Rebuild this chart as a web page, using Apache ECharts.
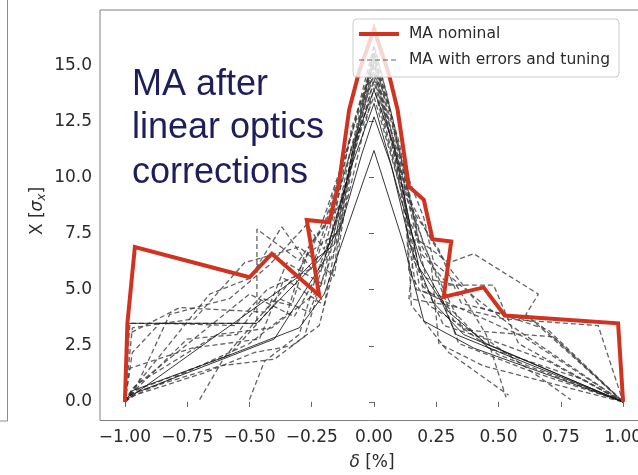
<!DOCTYPE html>
<html>
<head>
<meta charset="utf-8">
<script src="https://cdn.jsdelivr.net/npm/echarts@6/dist/echarts.min.js"></script>
<style>
  html, body { margin: 0; padding: 0; background: #ffffff; }
  #chart { width: 638px; height: 475px; }
</style>
</head>
<body>
<div id="chart"></div>
<script>
// Tick positions
const xTicks = [-1, -0.75, -0.5, -0.25, 0, 0.25, 0.5, 0.75, 1];
const yTicks = [0, 2.5, 5, 7.5, 10, 12.5, 15];

// Momentum aperture of the nominal lattice: [delta %, X in sigma_x]
const nominal = [
  [-1.0, 0.0], [-0.99, 3.5], [-0.96, 6.9], [-0.5, 5.55], [-0.41, 6.6], [-0.22, 4.75],
  [-0.27, 8.1], [-0.18, 8.0], [-0.14, 9.8], [-0.1, 13.0], [-0.06, 14.7], [0.0, 16.6],
  [0.06, 14.6], [0.095, 13.0], [0.14, 9.6], [0.2, 9.0], [0.235, 7.25], [0.31, 7.15],
  [0.28, 4.68], [0.44, 5.1], [0.525, 3.85], [0.98, 3.5], [1.0, 0.0]
];

// Momentum aperture of the machines with errors after tuning
const seedA = [[-1,0],[-0.98,3.5],[-0.47,3.5],[-0.47,7.7],[-0.3,6.3],[-0.22,7.6],[-0.11,11.2],[0,15.4],[0.1,11.6],[0.17,7.8],[0.14,4.6],[0.3,4.3],[0.52,3.7],[0.9,3.4],[1,0]];
const seedB = [[-1,0],[-0.98,0.4],[-0.66,4.8],[-0.5,5.5],[-0.37,7.8],[-0.25,5.9],[-0.12,10.6],[0,15.9],[0.08,12.4],[0.18,7.2],[0.3,6.2],[0.4,6.6],[0.66,4.8],[0.61,3.9],[1,0]];
const seedC = [[-1,0],[-0.97,0.6],[-0.5,4.8],[-0.32,3.8],[-0.19,6.4],[-0.09,12.2],[0,15.1],[0.11,10.2],[0.21,5.5],[0.33,5.2],[0.45,3.0],[0.53,0.2]];
const seedD = [[-0.7,0.1],[-0.6,2.0],[-0.42,4.3],[-0.35,6.2],[-0.2,5.2],[-0.1,10.9],[0,14.6],[0.1,10.4],[0.16,6.3],[0.28,3.4],[0.45,2.8],[0.79,0.1]];
const seedE = [[-0.5,0.1],[-0.44,1.8],[-0.3,3.0],[-0.23,5.7],[-0.14,8.4],[0,14.9],[0.12,9.2],[0.2,4.9],[0.38,4.0],[0.6,2.9],[1,0]];
const seedF = [[-1,0],[-0.97,0.3],[-0.82,3.9],[-0.58,4.6],[-0.42,6.1],[-0.27,7.9],[-0.2,6.8],[-0.08,11.8],[0,15.6],[0.09,11.0],[0.2,7.0],[0.28,5.0],[0.36,3.2],[0.72,2.9],[1,0]];
const seedG = [[-1,0],[-0.96,0.5],[-0.58,2.1],[-0.38,4.6],[-0.26,4.0],[-0.15,7.0],[0,14.0],[0.14,8.1],[0.23,6.1],[0.26,2.6],[0.44,1.6],[1,0]];
const seedH = [[-1,0],[-0.98,1.5],[-0.73,2.4],[-0.46,2.8],[-0.36,5.5],[-0.2,4.3],[-0.12,9.0],[0,15.2],[0.1,10.0],[0.25,5.6],[0.32,3.6],[0.5,2.1],[1,0]];
const seedI = [[-1,0],[-0.97,3.3],[-0.72,3.7],[-0.52,6.2],[-0.3,6.9],[-0.16,5.6],[-0.06,12.5],[0,15.8],[0.05,13.8],[0.15,8.6],[0.26,6.8],[0.35,4.4],[0.66,3.5],[1,0]];
const seedJ = [[-1,0],[-0.95,0.8],[-0.63,3.0],[-0.41,3.3],[-0.24,4.8],[-0.18,7.1],[-0.1,10.3],[0,14.4],[0.12,9.8],[0.14,5.8],[0.22,4.3],[0.41,3.0],[0.7,1.8],[1,0]];
const seedK = [[-1,0],[-0.99,3.0],[-0.78,4.2],[-0.44,4.0],[-0.31,5.7],[-0.2,7.9],[-0.1,11.6],[0,15.0],[0.07,12.8],[0.19,6.6],[0.3,5.2],[0.48,5.2],[0.58,2.6],[1,0]];
const seedL = [[-1,0],[-0.98,0.2],[-0.5,2.6],[-0.35,3.9],[-0.28,6.5],[-0.14,7.6],[-0.05,13.0],[0,14.7],[0.09,11.3],[0.18,5.3],[0.33,3.9],[0.46,2.4],[0.84,1.0],[1,0]];
const seedM = [[-1,0],[-0.97,2.2],[-0.86,3.5],[-0.56,3.4],[-0.43,5.0],[-0.24,6.0],[-0.17,8.4],[-0.07,12.0],[0,15.3],[0.11,10.8],[0.2,8.2],[0.24,6.2],[0.4,4.7],[0.55,3.4],[1,0]];
const seedN = [[-1,0],[-0.96,0.3],[-0.68,1.3],[-0.48,2.2],[-0.33,2.5],[-0.22,3.4],[-0.16,6.0],[-0.09,11.0],[0,13.6],[0.13,8.6],[0.15,4.3],[0.3,2.2],[0.54,0.3]];
const seedO = [[-1,0],[-0.97,0.4],[-0.62,1.6],[-0.4,1.9],[-0.28,2.9],[-0.21,5.3],[-0.11,9.8],[0,14.3],[0.1,9.9],[0.17,5.0],[0.27,4.7],[0.34,2.6],[0.62,1.4],[1,0]];
const seedT = [[-1,0],[-0.98,0.3],[-0.75,2.8],[-0.55,3.0],[-0.45,4.6],[-0.33,4.3],[-0.26,6.9],[-0.13,8.9],[-0.04,13.5],[0,15.5],[0.06,13.2],[0.13,9.3],[0.22,7.4],[0.3,6.0],[0.43,4.2],[0.7,3.2],[1,0]];
const seedP = [[-1,0],[-0.98,0.3],[-0.4,2.8],[-0.28,4.9],[-0.2,6.3],[-0.1,10.2],[0,13.3],[0.1,9.3],[0.19,6.2],[0.3,4.0],[0.45,2.6],[1,0]];
const seedQ = [[-1,0],[-0.99,3.5],[-0.47,3.5],[-0.34,5.0],[-0.22,6.3],[-0.13,7.9],[-0.05,11.0],[0,12.7],[0.07,10.5],[0.15,6.8],[0.24,4.4],[0.36,3.0],[1,0]];
const seedR = [[-1,0],[-0.97,0.5],[-0.6,2.0],[-0.3,3.3],[-0.2,4.8],[0,11.2],[0.12,7.0],[0.2,3.6],[0.4,2.4],[1,0]];
const seedS = [[-1,0],[-0.98,0.2],[-0.3,5.6],[-0.24,6.3],[-0.16,7.0],[-0.08,11.5],[0,13.9],[0.08,11.4],[0.18,6.0],[0.27,4.5],[0.33,3.0],[0.55,2.0],[1,0]];

const dashedSeeds = [seedA, seedB, seedC, seedD, seedE, seedF, seedG, seedH, seedI, seedJ, seedK, seedL, seedM, seedN, seedO, seedT];
const solidSeeds = [seedP, seedQ, seedR, seedS];

const NOMINAL = 'MA nominal';
const TUNED = 'MA with errors and tuning';
const mplFont = "'DejaVu Sans', 'Noto Sans', sans-serif";
const nominalColor = '#d03420';
const tunedColor = 'rgba(60,60,60,0.8)';

const series = [];
dashedSeeds.forEach(function (d) {
  series.push({
    name: TUNED, type: 'line', data: d, symbol: 'none', z: 2,
    itemStyle: { color: tunedColor },
    lineStyle: { color: tunedColor, width: 1.3, type: [5, 3] }
  });
});
solidSeeds.forEach(function (d) {
  series.push({
    name: TUNED, type: 'line', data: d, symbol: 'none', z: 2,
    itemStyle: { color: '#1a1a1a' },
    lineStyle: { color: 'rgba(20,20,20,0.85)', width: 1 }
  });
});
series.push({
  name: NOMINAL, type: 'line', data: nominal, symbol: 'none', z: 3,
  itemStyle: { color: nominalColor },
  lineStyle: { color: nominalColor, width: 4, join: 'miter' }
});

const fmtMinus = function (s) { return s.replace('-', '\u2212'); };

const chart = echarts.init(document.getElementById('chart'), null, { renderer: 'canvas' });
chart.setOption({
  animation: false,
  backgroundColor: '#ffffff',
  grid: {
    left: 100, top: 10, width: 548, height: 410.5,
    containLabel: false, outerBoundsMode: 'none',
    show: true, borderColor: '#808080', borderWidth: 1, backgroundColor: 'transparent'
  },
  xAxis: {
    type: 'value', min: -1.1, max: 1.1,
    axisLine: { show: false },
    splitLine: { show: false },
    axisTick: { show: true, customValues: xTicks, length: 5, lineStyle: { color: '#666' } },
    axisLabel: {
      customValues: xTicks, margin: 9,
      formatter: function (v) { return fmtMinus(v.toFixed(2)); },
      fontFamily: mplFont, fontSize: 17, color: '#2b2b2b'
    }
  },
  yAxis: {
    type: 'value', min: -0.83, max: 17.46,
    axisLine: { show: false },
    splitLine: { show: false },
    axisTick: { show: true, customValues: yTicks, length: 5, lineStyle: { color: '#666' } },
    axisLabel: {
      customValues: yTicks, margin: 8,
      formatter: function (v) { return v.toFixed(1); },
      fontFamily: mplFont, fontSize: 17, color: '#2b2b2b'
    }
  },
  legend: {
    data: [
      { name: NOMINAL, itemStyle: { opacity: 0 }, lineStyle: { width: 4, color: nominalColor } },
      { name: TUNED, itemStyle: { opacity: 0 }, lineStyle: { width: 1.2, color: tunedColor, type: [5, 3] } }
    ],
    orient: 'vertical', left: 353, top: 19, z: 20,
    itemWidth: 40, itemHeight: 14, itemGap: 10,
    selectedMode: false,
    padding: [7, 9, 9, 4],
    backgroundColor: 'rgba(255,255,255,0.8)',
    borderColor: '#cccccc', borderWidth: 1, borderRadius: 4,
    textStyle: { fontFamily: mplFont, fontSize: 15.5, color: '#2b2b2b', padding: [0, 0, 0, 5] }
  },
  graphic: [
    // frame of the neighbouring panel
    { type: 'line', shape: { x1: 7.5, y1: 0, x2: 7.5, y2: 421 }, style: { stroke: '#8a8a8a', lineWidth: 1 } },
    { type: 'line', shape: { x1: 0, y1: 421, x2: 7.5, y2: 421 }, style: { stroke: '#8a8a8a', lineWidth: 1 } },
    // slide annotation
    { type: 'text', x: 132, y: 85, z: 10,
      style: { text: 'MA after', font: "36px 'Liberation Sans', Arial, sans-serif", fill: '#1e1e5c', verticalAlign: 'middle' } },
    { type: 'text', x: 132, y: 128, z: 10,
      style: { text: 'linear optics', font: "36px 'Liberation Sans', Arial, sans-serif", fill: '#1e1e5c', verticalAlign: 'middle' } },
    { type: 'text', x: 132, y: 173, z: 10,
      style: { text: 'corrections', font: "36px 'Liberation Sans', Arial, sans-serif", fill: '#1e1e5c', verticalAlign: 'middle' } },
    // axis titles
    { type: 'text', x: 372, y: 463, z: 10,
      style: {
        text: '{i|δ} [%]', align: 'center', verticalAlign: 'middle',
        fontFamily: mplFont, fontSize: 17, fill: '#2b2b2b',
        rich: { i: { fontFamily: mplFont, fontSize: 17, fontStyle: 'italic', fill: '#2b2b2b' } }
      } },
    { type: 'text', x: 38, y: 211, rotation: Math.PI / 2, z: 10,
      style: {
        text: 'X [{i|σ}{s|x}]', align: 'center', verticalAlign: 'middle',
        fontFamily: mplFont, fontSize: 17, fill: '#2b2b2b',
        rich: {
          i: { fontFamily: mplFont, fontSize: 17, fontStyle: 'italic', fill: '#2b2b2b' },
          s: { fontFamily: mplFont, fontSize: 12, fontStyle: 'italic', fill: '#2b2b2b', padding: [8, 0, 0, 0] }
        }
      } }
  ],
  series: series
});
</script>
</body>
</html>
